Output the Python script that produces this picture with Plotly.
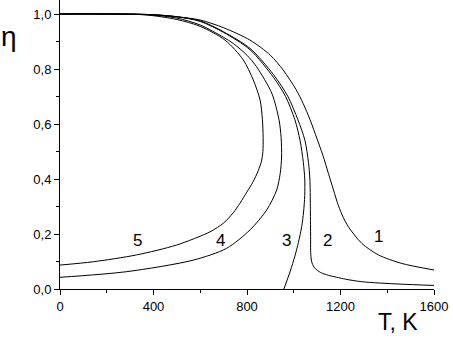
import plotly.graph_objects as go

# Curve data (T in K, eta)
t1 = [0, 380, 500, 600, 700, 813, 900, 955, 1010, 1040, 1070, 1100, 1125, 1148, 1170, 1191, 1212, 1233, 1291, 1362, 1462, 1600]
e1 = [1.0, 0.998, 0.99, 0.978, 0.95, 0.905, 0.85, 0.796, 0.725, 0.675, 0.615, 0.545, 0.485, 0.421, 0.36, 0.303, 0.26, 0.227, 0.166, 0.124, 0.093, 0.069]

t2 = [0, 380, 500, 600, 700, 813, 913, 975, 1018, 1048, 1063, 1069, 1071, 1072, 1073, 1078, 1091, 1115, 1148, 1220, 1291, 1450, 1600]
e2 = [1.0, 0.998, 0.99, 0.975, 0.935, 0.875, 0.78, 0.70, 0.615, 0.54, 0.46, 0.40, 0.30, 0.20, 0.125, 0.095, 0.075, 0.06, 0.05, 0.036, 0.0265, 0.018, 0.013]

t3 = [0, 380, 500, 600, 700, 813, 913, 965, 1005, 1027, 1041, 1047, 1047, 1042, 1034, 1020, 1005, 985, 958]
e3 = [1.0, 0.998, 0.99, 0.973, 0.933, 0.87, 0.77, 0.70, 0.615, 0.54, 0.46, 0.40, 0.34, 0.28, 0.227, 0.17, 0.12, 0.065, 0.0]

t4 = [0, 380, 500, 600, 700, 741, 800, 841, 906, 937, 946, 948, 942, 927, 884, 813, 713, 570, 285, 0]
e4 = [1.0, 0.997, 0.985, 0.96, 0.915, 0.893, 0.85, 0.808, 0.712, 0.615, 0.55, 0.48, 0.42, 0.36, 0.287, 0.215, 0.148, 0.105, 0.063, 0.0425]

t5 = [0, 360, 500, 600, 706, 784, 827, 856, 866, 869, 868, 862, 848, 826, 799, 770, 741, 700, 642, 499, 328, 142, 0]
e5 = [1.0, 0.997, 0.98, 0.955, 0.905, 0.833, 0.76, 0.687, 0.615, 0.55, 0.5, 0.465, 0.43, 0.39, 0.352, 0.312, 0.277, 0.24, 0.208, 0.16, 0.124, 0.099, 0.087]

curve_labels = ["1", "2", "3", "4", "5"]
label_t = [1361, 1145, 970, 687, 331]
label_e = [0.19, 0.176, 0.176, 0.178, 0.178]

x_ticks = [0, 400, 800, 1200, 1600]
y_ticks = [0.0, 0.2, 0.4, 0.6, 0.8, 1.0]

FONT = "Liberation Sans, Arial, sans-serif"

fig = go.Figure()
for t, e in [(t1, e1), (t2, e2), (t3, e3), (t4, e4), (t5, e5)]:
    fig.add_trace(go.Scatter(x=t, y=e, mode="lines",
                             line=dict(color="black", width=1, shape="spline", smoothing=0.8),
                             showlegend=False, hoverinfo="skip"))

for lab, lx, ly in zip(curve_labels, label_t, label_e):
    fig.add_annotation(x=lx, y=ly, text=lab, showarrow=False,
                       font=dict(family=FONT, size=17, color="black"))

fig.add_annotation(xref="paper", yref="paper", x=1.0, y=0, yshift=-33, xanchor="right", yanchor="middle",
                   text="T, K", showarrow=False, xshift=-14,
                   font=dict(family=FONT, size=23, color="black"))
fig.add_annotation(xref="paper", yref="paper", x=0, y=1, xshift=-51, yshift=-36, xanchor="center", yanchor="middle",
                   text="η", showarrow=False,
                   font=dict(family=FONT, size=28, color="black"))

fig.update_layout(
    width=453, height=341,
    margin=dict(l=60, r=19, t=0, b=52),
    paper_bgcolor="white", plot_bgcolor="white",
    separators=",.",
    font=dict(family=FONT, size=13, color="black"),
)
fig.update_xaxes(range=[0, 1600], tickvals=x_ticks, ticks="outside", ticklen=5, tickwidth=1,
                 tickcolor="black", showline=True, linecolor="black", linewidth=1,
                 showgrid=False, zeroline=False,
                 minor=dict(ticks="outside", ticklen=3, tickvals=[200, 600, 1000, 1400], tickcolor="black"))
fig.update_yaxes(range=[0, 1.0509], tickvals=y_ticks, tickformat=".1f", ticks="outside", ticklen=5, tickwidth=1,
                 tickcolor="black", showline=True, linecolor="black", linewidth=1,
                 showgrid=False, zeroline=False,
                 minor=dict(ticks="outside", ticklen=3, tickvals=[0.1, 0.3, 0.5, 0.7, 0.9], tickcolor="black"))

fig.write_html("out.html", config={"displayModeBar": False},
               post_script="document.body.style.margin='0';document.body.style.overflow='hidden';")
